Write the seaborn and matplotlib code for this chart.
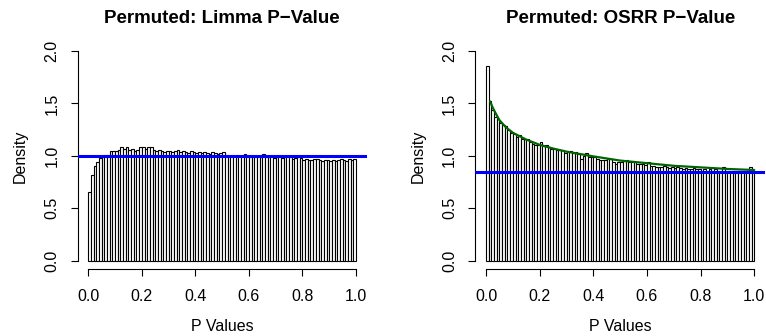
import numpy as np
import pandas as pd
import matplotlib
matplotlib.use("Agg")
import matplotlib.pyplot as plt
import seaborn as sns

# ---- data ----
limma_density = [
    0.66, 0.82, 0.90, 0.945, 0.975, 0.99, 1.01, 1.01, 1.05, 1.05,
    1.05, 1.06, 1.08, 1.07, 1.08, 1.06, 1.07, 1.05, 1.06, 1.08,
    1.08, 1.07, 1.08, 1.08, 1.06, 1.05, 1.06, 1.05, 1.04, 1.05,
    1.05, 1.04, 1.05, 1.06, 1.04, 1.05, 1.04, 1.03, 1.05, 1.04,
    1.03, 1.04, 1.03, 1.04, 1.03, 1.02, 1.04, 1.03, 1.02, 1.03,
    1.04, 1.01, 1.00, 1.00, 1.00, 1.01, 1.00, 1.00, 1.02, 1.00,
    0.99, 1.00, 0.99, 1.00, 0.99, 1.02, 0.99, 0.99, 1.00, 0.98,
    0.99, 0.99, 0.98, 0.99, 1.00, 0.99, 0.97, 0.98, 0.99, 0.98,
    0.96, 0.97, 0.96, 0.96, 0.97, 0.97, 0.96, 0.95, 0.96, 0.96,
    0.95, 0.96, 0.95, 0.96, 0.97, 0.96, 0.95, 0.97, 0.96, 0.97,
]
osrr_density = [
    1.86, 1.52, 1.44, 1.37, 1.35, 1.31, 1.29, 1.28, 1.25, 1.22,
    1.21, 1.18, 1.20, 1.16, 1.16, 1.16, 1.13, 1.11, 1.10, 1.10,
    1.13, 1.09, 1.10, 1.08, 1.07, 1.07, 1.06, 1.06, 1.06, 1.03,
    1.05, 1.05, 1.03, 1.04, 1.02, 0.97, 1.00, 1.03, 0.99, 0.99,
    0.99, 0.97, 0.96, 0.96, 0.96, 0.97, 0.97, 0.945, 0.92, 0.94,
    0.94, 0.95, 0.96, 0.94, 0.94, 0.94, 0.92, 0.92, 0.92, 0.91,
    0.94, 0.90, 0.90, 0.89, 0.89, 0.89, 0.90, 0.89, 0.88, 0.89,
    0.88, 0.89, 0.88, 0.87, 0.88, 0.87, 0.87, 0.88, 0.87, 0.87,
    0.86, 0.87, 0.86, 0.87, 0.86, 0.87, 0.86, 0.86, 0.89, 0.86,
    0.86, 0.85, 0.86, 0.85, 0.86, 0.85, 0.84, 0.85, 0.89, 0.84,
]
fit_p = [0.015, 0.025, 0.035, 0.05, 0.075, 0.1, 0.15, 0.2, 0.25, 0.3,
         0.4, 0.5, 0.6, 0.7, 0.8, 0.9, 1.0]
fit_density = [1.52, 1.46, 1.41, 1.34, 1.27, 1.22, 1.155, 1.105, 1.07, 1.04,
               0.995, 0.955, 0.93, 0.905, 0.89, 0.875, 0.865]
limma_null = 1.0
osrr_null = 0.85

titles = ["Permuted: Limma P\u2212Value", "Permuted: OSRR P\u2212Value"]
x_label = "P Values"
y_label = "Density"
x_ticks = [0.0, 0.2, 0.4, 0.6, 0.8, 1.0]
y_ticks = [0.0, 0.5, 1.0, 1.5, 2.0]

# ---- style ----
sns.set_style("ticks")
plt.rcParams["font.family"] = ["Liberation Sans", "DejaVu Sans"]
plt.rcParams.update({
    "text.color": "black", "axes.labelcolor": "black",
    "axes.edgecolor": "black", "xtick.color": "black", "ytick.color": "black",
})

W, H = 766, 336
fig = plt.figure(figsize=(W / 100, H / 100), dpi=100)

axes_px = [(77.6, 366.7), (475.3, 765.0)]
top_px, bot_px = 42.6, 269.1

n_bins = len(limma_density)
centers = (np.arange(n_bins) + 0.5) / n_bins

panels = [(limma_density, limma_null, False), (osrr_density, osrr_null, True)]

for i, ((x0, x1), (dens, null, has_fit)) in enumerate(zip(axes_px, panels)):
    ax = fig.add_axes([x0 / W, (H - bot_px) / H, (x1 - x0) / W, (bot_px - top_px) / H])
    df = pd.DataFrame({"p": centers, "density": dens})
    sns.histplot(data=df, x="p", weights="density", bins=n_bins, binrange=(0, 1),
                 stat="count", color="white", edgecolor="black", linewidth=0.8,
                 alpha=1, ax=ax)
    ax.axhline(null, color="#0000FF", lw=2.2, zorder=5)
    if has_fit:
        fit_df = pd.DataFrame({"p": fit_p, "density": fit_density})
        sns.lineplot(data=fit_df, x="p", y="density", color="#006400", lw=1.6,
                     ax=ax, zorder=6)
    ax.set_xlim(-0.04, 1.04)
    ax.set_ylim(-0.08, 2.08)
    ax.set_xticks(x_ticks)
    ax.set_xticklabels([f"{v:.1f}" for v in x_ticks])
    ax.set_yticks(y_ticks)
    ax.set_yticklabels([f"{v:.1f}" for v in y_ticks], rotation=90, va="center")
    for s in ["top", "right"]:
        ax.spines[s].set_visible(False)
    ax.spines["bottom"].set_bounds(0, 1)
    ax.spines["left"].set_bounds(0, 2)
    for s in ["bottom", "left"]:
        ax.spines[s].set_linewidth(0.8)
    ax.tick_params(axis="x", length=5, width=0.8, pad=9, labelsize=11.5)
    ax.tick_params(axis="y", length=5, width=0.8, pad=8, labelsize=11.5)
    ax.set_xlabel(x_label, fontsize=11.5, labelpad=11)
    ax.set_ylabel(y_label, fontsize=11.5, labelpad=12)
    ax.set_title(titles[i], fontsize=13.5, fontweight="bold", pad=14)
    ax.grid(False)

fig.savefig("out.png", dpi=100)
